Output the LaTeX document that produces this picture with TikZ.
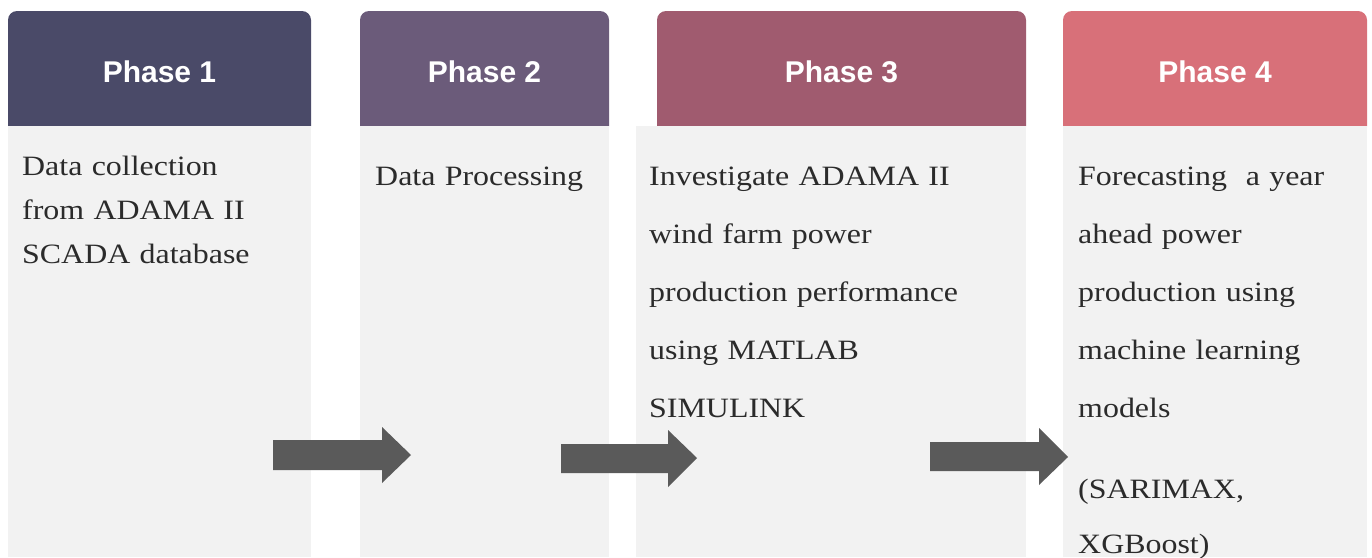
\documentclass[tikz,border=0pt]{standalone}
\usepackage{fontspec}
\setmainfont{Liberation Serif}
\newfontfamily\bodyfont[FakeStretch=1.14]{Liberation Serif}
\newfontfamily\headfont{Liberation Sans}
\definecolor{hA}{HTML}{4A4A68}
\definecolor{hB}{HTML}{6B5B7A}
\definecolor{hC}{HTML}{A05B6F}
\definecolor{hD}{HTML}{D87079}
\definecolor{bodygray}{HTML}{F2F2F2}
\definecolor{arrowgray}{HTML}{5A5A5A}
\definecolor{txt}{HTML}{2B2B2B}
\tikzset{
  bodybox/.style={fill=bodygray, draw=none, inner sep=0, anchor=north west, minimum height=431},
  headtext/.style={text=white, anchor=base, inner sep=0, font=\headfont\bfseries\fontsize{30}{36}\selectfont},
  bodytext/.style={text=txt, anchor=north west, inner sep=0, text width=360, align=left},
  blockarrow/.style={fill=arrowgray, draw=none},
}
\begin{document}
\begin{tikzpicture}[x=1pt,y=-1pt]
\useasboundingbox (0,0) rectangle (1372,557);
\fill[white] (0,0) rectangle (1372,557);
% headers
\fill[hA] (8,126) [rounded corners=9] -- (8,11) -- (311,11) [sharp corners] -- (311,126) -- cycle;
\fill[hB] (360,126) [rounded corners=9] -- (360,11) -- (609,11) [sharp corners] -- (609,126) -- cycle;
\fill[hC] (657,126) [rounded corners=9] -- (657,11) -- (1026,11) [sharp corners] -- (1026,126) -- cycle;
\fill[hD] (1063,126) [rounded corners=9] -- (1063,11) -- (1367,11) [sharp corners] -- (1367,126) -- cycle;
\node[headtext] (h1) at (159.5,82) {Phase 1};
\node[headtext] (h2) at (484.5,82) {Phase 2};
\node[headtext] (h3) at (841.5,82) {Phase 3};
\node[headtext] (h4) at (1215,82) {Phase 4};
% bodies
\node[bodybox, minimum width=303] (b1) at (8,126) {};
\node[bodybox, minimum width=249] (b2) at (360,126) {};
\node[bodybox, minimum width=390] (b3) at (636,126) {};
\node[bodybox, minimum width=304] (b4) at (1063,126) {};
% body texts
\node[bodytext, font=\bodyfont\fontsize{28}{44}\selectfont] (t1) at (22,155)
  {\rule{0pt}{20pt}Data collection\\from ADAMA II\\SCADA database};
\node[bodytext, font=\bodyfont\fontsize{28}{58}\selectfont] (t2) at (375,165)
  {\rule{0pt}{20pt}Data Processing};
\node[bodytext, font=\bodyfont\fontsize{28}{58}\selectfont] (t3) at (649,165.5)
  {\rule{0pt}{20pt}Investigate ADAMA II\\wind farm power\\production performance\\using MATLAB\\SIMULINK};
\node[bodytext, font=\bodyfont\fontsize{28}{58}\selectfont] (t4) at (1078,165)
  {\rule{0pt}{20pt}Forecasting\ \ a year\\ahead power\\production using\\machine learning\\models\\[23pt](SARIMAX,\\[-3pt]XGBoost)};
% arrows
\fill[blockarrow] (273,440) -- (382,440) -- (382,427) -- (411,455) -- (382,483) -- (382,470) -- (273,470) -- cycle;
\fill[blockarrow] (561,444) -- (668,444) -- (668,430) -- (697,458) -- (668,487) -- (668,473) -- (561,473) -- cycle;
\fill[blockarrow] (930,442) -- (1039,442) -- (1039,428) -- (1068,457) -- (1039,485) -- (1039,471) -- (930,471) -- cycle;
\end{tikzpicture}
\end{document}
